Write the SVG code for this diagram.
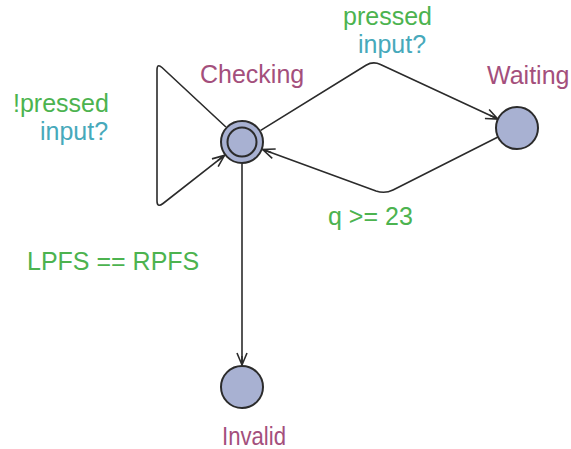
<svg xmlns="http://www.w3.org/2000/svg" width="571" height="449" viewBox="0 0 571 449">
<style>
.loc{fill:#a8b1d2;stroke:#2b2b2b;stroke-width:2}
.edge{fill:none;stroke:#2b2b2b;stroke-width:1.6;marker-end:url(#arr)}
text{font-family:"Liberation Sans",Arial,sans-serif;font-size:25px}
.name{fill:#a44f7c}
.guard{fill:#4cb34f}
.sync{fill:#47a9bb}
</style>
<defs>
<marker id="arr" markerUnits="userSpaceOnUse" markerWidth="16" markerHeight="12" refX="13" refY="6" orient="auto" viewBox="0 0 16 12">
<path d="M1,1 L13,6 L1,11 M4,6 L13,6" fill="none" stroke="#2b2b2b" stroke-width="1.6"/>
</marker>
</defs>
<g id="connectors">
<path class="edge" d="M260.7,130.4 L366,65.3 Q373,61 380.5,64.5 L497.9,119.1"/>
<path class="edge" d="M498,137 L393,190 Q385,194 376,191 L262.7,149.5"/>
<path class="edge" d="M225.9,127 L162,67.5 Q157,63 157,70 L157,201 Q157,208 163,203.5 L224.5,155.4"/>
<path class="edge" d="M242,164 L242,365"/>
</g>
<g id="checking">
<circle class="loc" cx="242" cy="142" r="21"/>
<circle class="loc" cx="242" cy="142" r="14.5"/>
<text class="name" x="200" y="83">Checking</text>
</g>
<g id="waiting">
<circle class="loc" cx="517" cy="128" r="21"/>
<text class="name" x="487" y="84">Waiting</text>
</g>
<g id="invalid">
<circle class="loc" cx="242" cy="387" r="21"/>
<text class="name" x="222" y="445" textLength="64" lengthAdjust="spacingAndGlyphs">Invalid</text>
</g>
<g id="labels">
<text class="guard" x="343" y="25">pressed</text>
<text class="sync" x="358" y="53">input?</text>
<text class="guard" x="13" y="112">!pressed</text>
<text class="sync" x="40" y="140">input?</text>
<text class="guard" x="328" y="225">q &gt;= 23</text>
<text class="guard" x="27" y="270">LPFS == RPFS</text>
</g>
</svg>
